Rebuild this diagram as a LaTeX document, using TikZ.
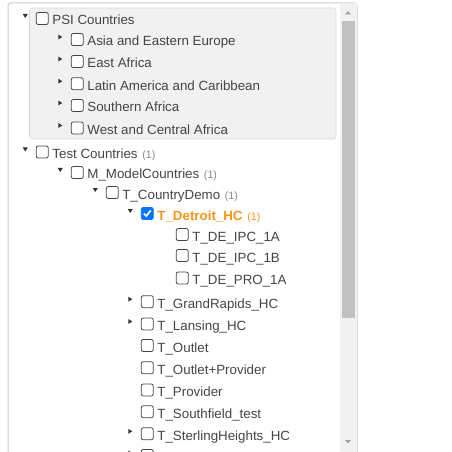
\documentclass[tikz,border=0pt]{standalone}
\usepackage{fontspec}
\setmainfont{Liberation Sans}
\usetikzlibrary{positioning}
\definecolor{txtgray}{RGB}{68,68,68}
\definecolor{cntgray}{RGB}{136,136,136}
\definecolor{selorange}{RGB}{247,148,29}
\definecolor{chkblue}{RGB}{0,117,255}
\definecolor{boxgray}{RGB}{241,241,241}
\definecolor{boxline}{RGB}{217,217,217}
\definecolor{frameline}{RGB}{204,204,204}
\definecolor{trackgray}{RGB}{241,241,241}
\definecolor{thumbgray}{RGB}{193,193,193}
\definecolor{arrowgray}{RGB}{163,163,163}
\newcommand{\cntone}{\hspace{3.5pt}{\color{cntgray}\fontsize{8}{9}\selectfont(1)}}
\begin{document}
\begin{tikzpicture}[x=0.75pt,y=-0.75pt,
  chk/.style={draw=txtgray,fill=white,rounded corners=1.5pt,minimum size=9pt,inner sep=0pt,line width=0.6pt},
  lbl/.style={anchor=base west,inner sep=0pt,text=txtgray,font=\fontsize{10}{12}\selectfont},
  tog/.style={fill=black!80}]

  \useasboundingbox (0,0) rectangle (451,452);

  % frame and scrollbar
  \draw[frameline,line width=0.75pt,rounded corners=2pt] (8,452) -- (8,3) -- (357,3) -- (357,452);
  \fill[trackgray] (340,3.5) rectangle (356.6,452);
  \fill[thumbgray] (342,21) rectangle (355,318);
  \fill[arrowgray] (345,14.5) -- (351,14.5) -- (348,11) -- cycle;
  \fill[arrowgray] (345,440) -- (351,440) -- (348,443.5) -- cycle;

  % grey group
  \draw[fill=boxgray,draw=boxline,rounded corners=2pt] (29.5,8) rectangle (336,139);

  \begin{scope}
  \clip (0,0) rectangle (451,452);
  \foreach \i/\y/\lv/\tg/\txt in {
    1/18.5/0/1/PSI Countries,
    2/39.5/1/2/Asia and Eastern Europe,
    3/61.5/1/2/East Africa,
    4/83.7/1/2/Latin America and Caribbean,
    5/105.5/1/2/Southern Africa,
    6/128/1/2/West and Central Africa,
    7/152/0/1/Test Countries\cntone,
    8/172.5/1/1/M\_ModelCountries\cntone,
    9/192.5/2/1/T\_CountryDemo\cntone,
    11/234.5/4/0/T\_DE\_IPC\_1A,
    12/255.5/4/0/T\_DE\_IPC\_1B,
    13/278/4/0/T\_DE\_PRO\_1A,
    14/301.7/3/2/T\_GrandRapids\_HC,
    15/324/3/2/T\_Lansing\_HC,
    16/345.5/3/0/T\_Outlet,
    17/367.8/3/0/T\_Outlet+Provider,
    18/390/3/0/T\_Provider,
    19/411.8/3/0/T\_Southfield\_test,
    20/433.8/3/2/T\_SterlingHeights\_HC,
    21/455.5/3/2/{}}{
    \node[chk] (c\i) at ({42.25+35*\lv},\y) {};
    \node[lbl] (t\i) at ([shift={(3.5,6.5)}]c\i.east) {\txt};
    \ifnum\tg=1 \fill[tog] ([shift={(-19.5,-4.5)}]c\i.center) -- ++(5,0) -- ++(-2.5,4) -- cycle; \fi
    \ifnum\tg=2 \fill[tog] ([shift={(-19,-5)}]c\i.center) -- ++(4,2.5) -- ++(-4,2.5) -- cycle; \fi
  }
  \end{scope}

  % selected item
  \node[chk,fill=chkblue,draw=chkblue] (c10) at (147.25,213.5) {};
  \draw[white,line width=1.3pt] ([shift={(-3.5,0)}]c10.center) -- ([shift={(-1,2.5)}]c10.center) -- ([shift={(3.5,-3)}]c10.center);
  \node[lbl,text=selorange,font=\fontsize{10}{12}\selectfont\bfseries] (t10) at ([shift={(3.5,6.5)}]c10.east) {T\_Detroit\_HC\hspace{3.5pt}{\mdseries\fontsize{8}{9}\selectfont(1)}};
  \fill[tog] ([shift={(-19.5,-4.5)}]c10.center) -- ++(5,0) -- ++(-2.5,4) -- cycle;

\end{tikzpicture}
\end{document}
